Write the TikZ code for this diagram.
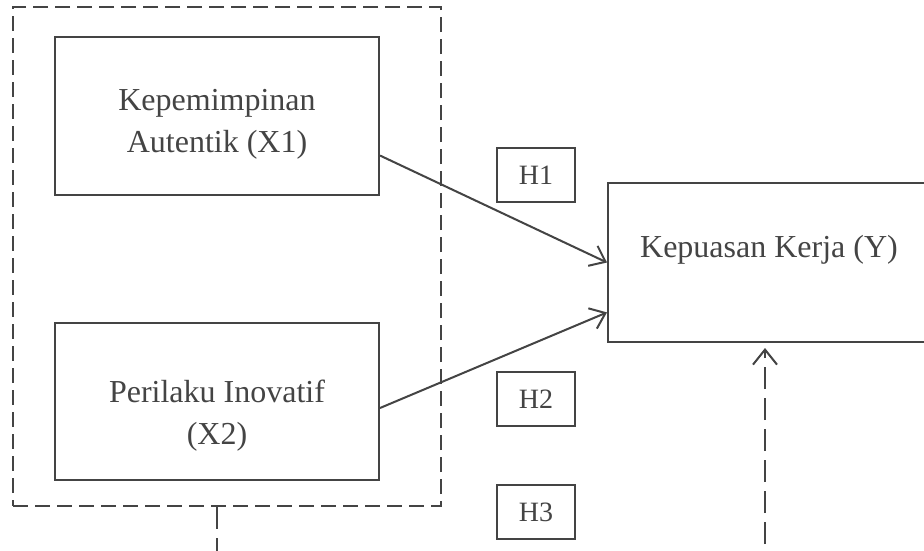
\documentclass[tikz,border=0pt]{standalone}
\usepackage{fontspec}
\setmainfont{Liberation Serif}
\usetikzlibrary{arrows.meta,calc}
\definecolor{ink}{HTML}{444444}
\definecolor{txt}{HTML}{444444}
\tikzset{
  box/.style={draw=ink, line width=2pt, inner sep=0pt},
  grpbox/.style={draw=ink, line width=2pt, dash pattern=on 15pt off 7pt, inner sep=0pt},
  hbox/.style={draw=ink, line width=1.2pt, minimum width=78pt, minimum height=54pt, inner sep=0pt, font=\fontsize{28}{30}\selectfont, text=txt},
  lbl/.style={align=center, font=\fontsize{32}{42}\selectfont, text=txt, inner sep=0pt},
  arr/.style={draw=ink, line width=2pt, -{Straight Barb[length=14pt,width=22pt,line width=2pt]}},
  dasharr/.style={draw=ink, line width=2pt, dash pattern=on 22pt off 9pt, -{Straight Barb[length=15pt,width=24pt,line width=2pt]}}
}
\begin{document}
\begin{tikzpicture}[x=1pt,y=-1pt]
\useasboundingbox[fill=white] (0,0) rectangle (924,550);
% group box
\node[grpbox, minimum width=428pt, minimum height=499pt] (grp) at (227,256.5) {};
% X1 and X2 boxes
\node[box, minimum width=324pt, minimum height=158pt] (x1) at (217,116) {};
\node[lbl] (x1t) at (217,124) {Kepemimpinan\\Autentik (X1)};
\node[box, minimum width=324pt, minimum height=157pt] (x2) at (217,401.5) {};
\node[lbl] (x2t) at (217,416) {Perilaku Inovatif\\(X2)};
% Y box
\node[box, minimum width=322pt, minimum height=159pt] (y) at (769,262.5) {};
\node[lbl] (yt) at (769,250) {Kepuasan Kerja (Y)};
% H labels
\node[hbox] (h1) at (536,175) {H1};
\node[hbox] (h2) at (536,399) {H2};
\node[hbox] (h3) at (536,512) {H3};
% arrows
\draw[arr] ($(x1.south east)!0.253!(x1.north east)$) -- (y.west);
\draw[arr] ($(x2.east)+(0,6.5)$) -- ($(y.south west)!0.19!(y.north west)$);
\draw[dasharr, shorten >=5pt] (x2.south |- grp.south) -- ++(0,70) -| ($(y.south)+(-4,0)$);
\end{tikzpicture}
\end{document}
